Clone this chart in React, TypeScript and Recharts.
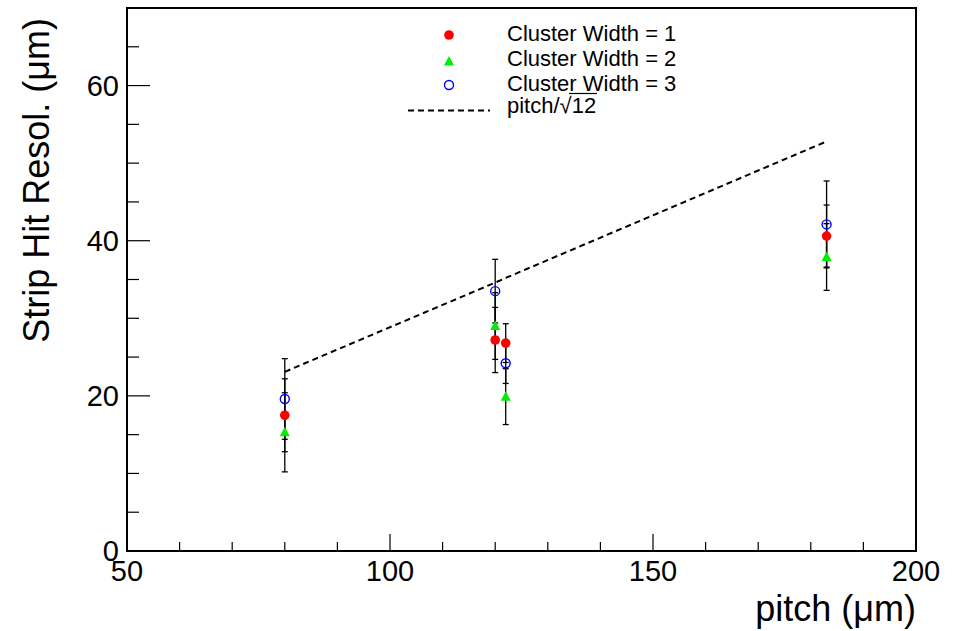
import React from 'react';
import { ScatterChart, Scatter, XAxis, YAxis, ErrorBar, ReferenceArea } from 'recharts';

const FONT = '"Liberation Sans", Arial, Helvetica, sans-serif';

// Data
const pitch = [80, 120, 122, 183];
const cw1Resol = [17.5, 27.2, 26.8, 40.6];
const cw1Err = [4.7, 4.2, 2.5, 4.0];
const cw2Resol = [15.3, 29.0, 19.9, 37.9];
const cw2Err = [5.1, 4.3, 3.6, 4.3];
const cw3Resol = [19.6, 33.5, 24.2, 42.1];
const cw3Err = [5.2, 4.1, 2.6, 5.6];
const linePitch = [80, 120, 122, 183];
const lineResol = [23.1, 34.6, 35.2, 52.8];

const xTicks = [50, 60, 70, 80, 90, 100, 110, 120, 130, 140, 150, 160, 170, 180, 190, 200];
const xLabels = [50, 100, 150, 200];
const yTicks = [0, 5, 10, 15, 20, 25, 30, 35, 40, 45, 50, 55, 60, 65, 70];
const yLabels = [0, 20, 40, 60];

const legendLabels = ['Cluster Width = 1', 'Cluster Width = 2', 'Cluster Width = 3'];
const xTitle = 'pitch (\u03bcm)';
const yTitle = 'Strip Hit Resol. (\u03bcm)';

const build = (ys: number[], es: number[]) => pitch.map((x, i) => ({ x, y: ys[i], e: es[i] }));
const cw1Data = build(cw1Resol, cw1Err);
const cw2Data = build(cw2Resol, cw2Err);
const cw3Data = build(cw3Resol, cw3Err);
const lineData = linePitch.map((x, i) => ({ x, y: lineResol[i] }));

const RedDot = (p: any) => <circle cx={p.cx} cy={p.cy} r={4.8} fill="#ff0000" />;
const GreenTri = (p: any) => (
  <polygon
    points={`${p.cx},${p.cy - 5.5} ${p.cx - 5},${p.cy + 4} ${p.cx + 5},${p.cy + 4}`}
    fill="#00ee00"
  />
);
const BlueRing = (p: any) => <circle cx={p.cx} cy={p.cy} r={4.5} fill="none" stroke="#0000ff" strokeWidth={1.4} />;
const Nothing = () => <g />;

const XTick = (props: any) => {
  const { x, y, payload } = props;
  const v = payload.value;
  const major = xLabels.includes(v);
  return (
    <g>
      <line x1={x} x2={x} y1={y} y2={y - (major ? 17 : 9)} stroke="#000" strokeWidth={1.2} />
      {major && (
        <text x={x} y={y + 30} textAnchor="middle" fontSize={29} fontFamily={FONT} fill="#000">
          {v}
        </text>
      )}
    </g>
  );
};

const YTick = (props: any) => {
  const { x, y, payload } = props;
  const v = payload.value;
  const major = yLabels.includes(v);
  return (
    <g>
      <line x1={x} x2={x + (major ? 23 : 12)} y1={y} y2={y} stroke="#000" strokeWidth={1.2} />
      {major && (
        <text x={x - 8} y={y + 10} textAnchor="end" fontSize={29} fontFamily={FONT} fill="#000">
          {v}
        </text>
      )}
    </g>
  );
};

export default function App() {
  return (
    <div style={{ position: 'absolute', left: 0, top: 0, width: 956, height: 631, background: '#fff' }}>
      <ScatterChart width={956} height={631} margin={{ top: 8, right: 40, bottom: 0, left: 0 }}>
        <XAxis
          type="number"
          dataKey="x"
          domain={[50, 200]}
          ticks={xTicks}
          interval={0}
          height={80}
          axisLine={false}
          tickLine={false}
          tickSize={0}
          tickMargin={0}
          tick={<XTick />}
          allowDataOverflow
        />
        <YAxis
          type="number"
          dataKey="y"
          domain={[0, 70]}
          ticks={yTicks}
          interval={0}
          width={127}
          axisLine={false}
          tickLine={false}
          tickSize={0}
          tickMargin={0}
          tick={<YTick />}
          allowDataOverflow
        />
        <ReferenceArea x1={50} x2={200} y1={0} y2={70} fill="none" stroke="#000" strokeWidth={2} ifOverflow="visible" />
        <Scatter
          data={lineData}
          dataKey="y"
          stroke="#000"
          fill="none"
          line={{ stroke: '#000', strokeWidth: 2, strokeDasharray: '6 4' }}
          shape={Nothing}
          isAnimationActive={false}
        />
        <Scatter data={cw1Data} dataKey="y" fill="#ff0000" shape={RedDot} isAnimationActive={false}>
          <ErrorBar dataKey="e" direction="y" width={3} stroke="#000" strokeWidth={1.3} isAnimationActive={false} />
        </Scatter>
        <Scatter data={cw2Data} dataKey="y" fill="#00ee00" shape={GreenTri} isAnimationActive={false}>
          <ErrorBar dataKey="e" direction="y" width={3} stroke="#000" strokeWidth={1.3} isAnimationActive={false} />
        </Scatter>
        <Scatter data={cw3Data} dataKey="y" fill="#0000ff" shape={BlueRing} isAnimationActive={false}>
          <ErrorBar dataKey="e" direction="y" width={3} stroke="#000" strokeWidth={1.3} isAnimationActive={false} />
        </Scatter>
      </ScatterChart>
      <svg
        width={956}
        height={631}
        style={{ position: 'absolute', left: 0, top: 0, pointerEvents: 'none' }}
        fontFamily={FONT}
      >
        <text x={49} y={18} transform="rotate(-90 49 18)" textAnchor="end" fontSize={36} fill="#000">
          {yTitle}
        </text>
        <text x={916} y={621} textAnchor="end" fontSize={36} fill="#000">
          {xTitle}
        </text>
        <circle cx={449} cy={35} r={4.8} fill="#ff0000" />
        <polygon points="449,56 444,65.5 454,65.5" fill="#00ee00" />
        <circle cx={449} cy={85} r={4.5} fill="none" stroke="#0000ff" strokeWidth={1.4} />
        <line x1={408} x2={490} y1={110.5} y2={110.5} stroke="#000" strokeWidth={2} strokeDasharray="6 4" />
        <text x={507} y={41} fontSize={22} fill="#000">{legendLabels[0]}</text>
        <text x={507} y={66} fontSize={22} fill="#000">{legendLabels[1]}</text>
        <text x={507} y={91} fontSize={22} fill="#000">{legendLabels[2]}</text>
        <text x={507} y={113} fontSize={22} fill="#000">
          pitch/{'\u221a'}12
        </text>
        <line x1={569} x2={597} y1={93.5} y2={93.5} stroke="#000" strokeWidth={1.2} />
      </svg>
    </div>
  );
}
